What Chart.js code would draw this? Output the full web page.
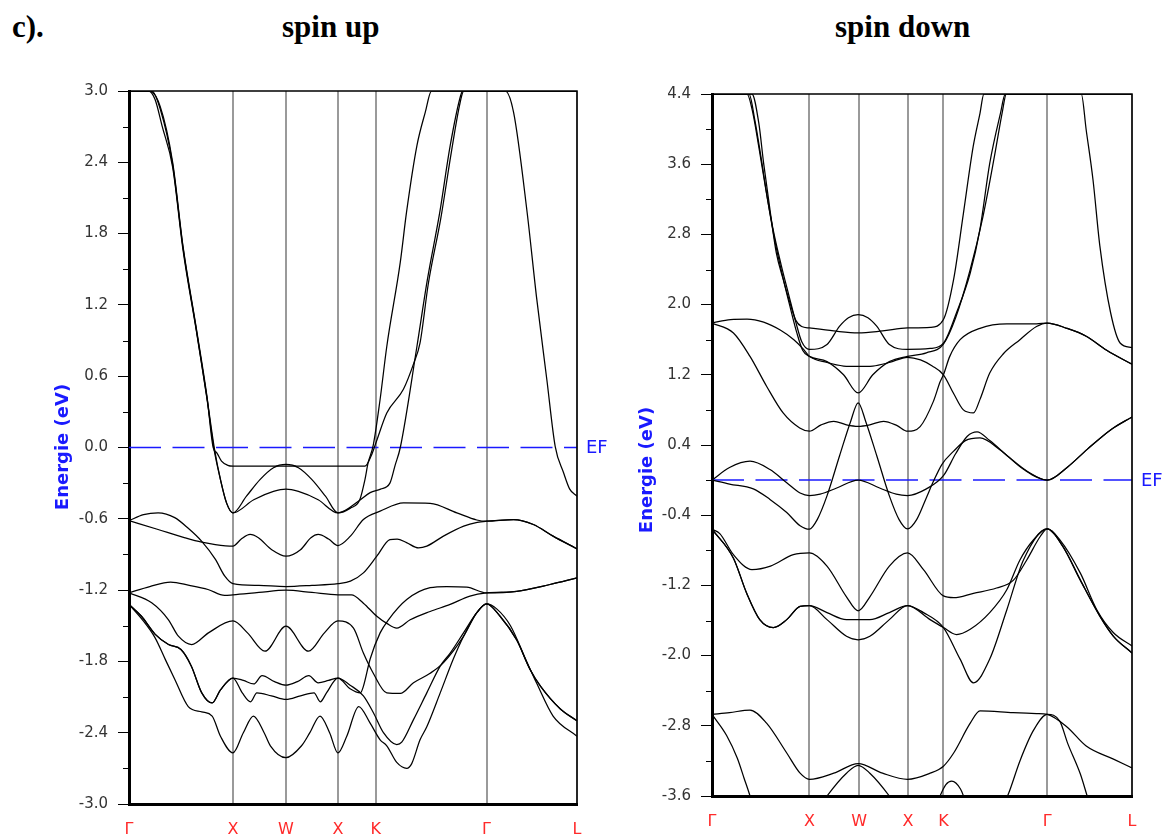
<!DOCTYPE html>
<html lang="fr">
<head>
<meta charset="UTF-8">
<title>Structure de bandes</title>
<script src="https://cdn.jsdelivr.net/npm/chart.js"></script>
<style>
  body { margin: 0; background: #fff; width: 1172px; height: 836px; position: relative; overflow: hidden; }
  .titre { position: absolute; top: 11px; font-family: "Liberation Serif", serif; font-weight: bold; font-size: 31px; line-height: 31px; color: #000; }
  #cUp { position: absolute; left: 0; top: 0; }
  #cDown { position: absolute; left: 630px; top: 0; }
</style>
</head>
<body>
<div class="titre" style="left:12px">c).</div>
<div class="titre" style="left:282px">spin up</div>
<div class="titre" style="left:835px">spin down</div>
<canvas id="cUp" width="630" height="836"></canvas>
<canvas id="cDown" width="542" height="836"></canvas>

<script>
// chemin dans la zone de Brillouin
const kPoints = [0, 1.0, 1.51, 2.01, 2.375, 3.44, 4.31];
const kLabels = ['Γ', 'X', 'W', 'X', 'K', 'Γ', 'L'];

const upTicks = [-3.0, -2.4, -1.8, -1.2, -0.6, 0.0, 0.6, 1.2, 1.8, 2.4, 3.0];
const downTicks = [-3.6, -2.8, -2.0, -1.2, -0.4, 0.4, 1.2, 2.0, 2.8, 3.6, 4.4];

// spin up : bandes [k, E(eV)]
const up1 = [[0,3.0],[0.20,3.0],[0.30,2.87],[0.42,2.40],[0.52,1.69],[0.65,0.99],[0.75,0.43],[0.81,0.0],[0.845,-0.045],[0.89,-0.115],[0.95,-0.15],[1.0,-0.157],[1.51,-0.157],[2.01,-0.157],[2.27,-0.157],[2.33,-0.07],[2.38,0.05],[2.48,0.29],[2.64,0.49],[2.74,0.71],[2.80,0.88],[2.88,1.38],[3.0,1.93],[3.10,2.48],[3.18,2.88],[3.22,3.0],[4.31,3.0]];
const up2 = [[0,3.0],[0.22,3.0],[0.30,2.85],[0.42,2.38],[0.52,1.68],[0.65,0.98],[0.75,0.42],[0.82,0.0],[0.88,-0.27],[0.94,-0.47],[1.0,-0.55],[1.13,-0.41],[1.26,-0.27],[1.39,-0.17],[1.51,-0.143],[1.63,-0.17],[1.76,-0.27],[1.89,-0.41],[2.01,-0.55],[2.13,-0.51],[2.22,-0.44],[2.27,-0.27],[2.30,-0.13],[2.35,0.02],[2.415,0.40],[2.48,0.85],[2.61,1.56],[2.67,1.98],[2.77,2.54],[2.85,2.82],[2.91,3.0],[3.62,3.0],[3.70,2.82],[3.83,1.98],[3.92,1.27],[4.02,0.57],[4.10,0.01],[4.18,-0.21],[4.24,-0.35],[4.31,-0.41]];
const up3 = [[0,3.0],[0.19,3.0],[0.25,2.93],[0.32,2.70],[0.42,2.36],[0.52,1.66],[0.65,0.97],[0.75,0.41],[0.815,0.0],[0.88,-0.27],[0.94,-0.47],[1.0,-0.55],[1.20,-0.44],[1.39,-0.37],[1.51,-0.35],[1.63,-0.37],[1.82,-0.44],[2.01,-0.55],[2.21,-0.45],[2.32,-0.38],[2.42,-0.35],[2.51,-0.30],[2.56,-0.15],[2.61,0.0],[2.77,0.85],[2.87,1.41],[2.99,1.98],[3.09,2.54],[3.19,2.96],[3.21,3.0],[4.31,3.0]];
const up4 = [[0,-0.615],[0.14,-0.565],[0.28,-0.55],[0.44,-0.59],[0.57,-0.68],[0.70,-0.79],[0.83,-0.94],[0.92,-1.08],[1.0,-1.145],[1.25,-1.16],[1.51,-1.17],[1.76,-1.16],[2.01,-1.145],[2.13,-1.125],[2.255,-1.055],[2.384,-0.915],[2.51,-0.775],[2.58,-0.77],[2.67,-0.80],[2.785,-0.845],[2.865,-0.83],[3.025,-0.746],[3.22,-0.662],[3.35,-0.63],[3.44,-0.62],[3.70,-0.606],[3.89,-0.648],[4.08,-0.746],[4.31,-0.853]];
const up5 = [[0,-0.615],[0.28,-0.69],[0.54,-0.76],[0.70,-0.797],[0.83,-0.817],[1.0,-0.83],[1.08,-0.77],[1.165,-0.732],[1.245,-0.76],[1.373,-0.86],[1.51,-0.915],[1.65,-0.86],[1.75,-0.76],[1.82,-0.732],[1.92,-0.77],[2.01,-0.825],[2.13,-0.746],[2.255,-0.606],[2.416,-0.536],[2.641,-0.466],[2.897,-0.47],[3.154,-0.55],[3.346,-0.61],[3.44,-0.62],[3.70,-0.606],[3.89,-0.648],[4.08,-0.746],[4.31,-0.853]];
const up6 = [[0,-1.223],[0.20,-1.17],[0.40,-1.133],[0.58,-1.16],[0.76,-1.195],[0.92,-1.245],[1.0,-1.24],[1.25,-1.22],[1.51,-1.20],[1.76,-1.22],[2.01,-1.24],[2.14,-1.24],[2.255,-1.31],[2.384,-1.42],[2.48,-1.48],[2.576,-1.52],[2.705,-1.45],[2.897,-1.38],[3.09,-1.32],[3.28,-1.25],[3.44,-1.223],[3.73,-1.21],[4.05,-1.153],[4.31,-1.097]];
const up7 = [[0,-1.223],[0.218,-1.307],[0.378,-1.448],[0.475,-1.588],[0.603,-1.658],[0.764,-1.56],[1.0,-1.46],[1.14,-1.56],[1.308,-1.714],[1.51,-1.504],[1.726,-1.714],[1.88,-1.56],[2.01,-1.46],[2.16,-1.52],[2.255,-1.73],[2.35,-1.90],[2.48,-2.065],[2.61,-2.07],[2.737,-1.98],[2.897,-1.90],[3.026,-1.81],[3.218,-1.59],[3.346,-1.39],[3.44,-1.316],[3.57,-1.42],[3.73,-1.62],[3.86,-1.87],[3.96,-2.01],[4.15,-2.20],[4.31,-2.30]];
const up8 = [[0,-1.32],[0.12,-1.42],[0.25,-1.57],[0.38,-1.658],[0.50,-1.70],[0.60,-1.84],[0.70,-2.065],[0.80,-2.15],[0.88,-2.04],[1.0,-1.94],[1.10,-1.96],[1.20,-1.99],[1.28,-1.92],[1.40,-1.97],[1.51,-2.0],[1.62,-1.97],[1.73,-1.92],[1.82,-1.98],[1.92,-1.96],[2.01,-1.94],[2.127,-2.0],[2.255,-2.09],[2.35,-2.23],[2.448,-2.40],[2.576,-2.50],[2.624,-2.48],[2.737,-2.29],[2.865,-2.065],[2.994,-1.84],[3.09,-1.73],[3.218,-1.56],[3.346,-1.39],[3.44,-1.316],[3.57,-1.42],[3.73,-1.62],[3.86,-1.87],[3.96,-2.01],[4.15,-2.20],[4.31,-2.30]];
const up9 = [[0,-1.32],[0.12,-1.44],[0.25,-1.60],[0.35,-1.785],[0.44,-1.95],[0.57,-2.18],[0.70,-2.225],[0.80,-2.26],[0.88,-2.43],[1.0,-2.57],[1.10,-2.40],[1.197,-2.26],[1.30,-2.40],[1.36,-2.51],[1.51,-2.61],[1.66,-2.51],[1.74,-2.40],[1.838,-2.26],[1.93,-2.40],[2.01,-2.57],[2.095,-2.43],[2.21,-2.18],[2.32,-2.32],[2.416,-2.46],[2.48,-2.51],[2.576,-2.65],[2.672,-2.70],[2.72,-2.66],[2.80,-2.46],[2.865,-2.35],[2.994,-2.065],[3.12,-1.78],[3.218,-1.59],[3.346,-1.39],[3.44,-1.316],[3.54,-1.36],[3.67,-1.50],[3.83,-1.81],[3.92,-1.98],[4.08,-2.26],[4.31,-2.43]];
const up10 = [[0,-1.32],[0.12,-1.42],[0.25,-1.57],[0.38,-1.658],[0.50,-1.70],[0.60,-1.84],[0.70,-2.065],[0.80,-2.15],[0.88,-2.04],[1.0,-1.94],[1.09,-2.065],[1.17,-2.14],[1.23,-2.065],[1.37,-2.09],[1.51,-2.12],[1.65,-2.09],[1.78,-2.065],[1.84,-2.14],[1.90,-2.065],[2.01,-1.94],[2.127,-2.03],[2.226,-2.065],[2.255,-2.01],[2.32,-1.78],[2.416,-1.56],[2.496,-1.45],[2.672,-1.28],[2.897,-1.18],[3.058,-1.17],[3.25,-1.175],[3.44,-1.223],[3.73,-1.21],[4.05,-1.153],[4.31,-1.097]];

// spin down : bandes [k, E(eV)]
const dn1 = [[0,4.4],[0.41,4.4],[0.48,4.07],[0.53,3.61],[0.60,3.04],[0.66,2.59],[0.73,2.29],[0.80,2.02],[0.86,1.82],[0.92,1.75],[1.0,1.734],[1.25,1.70],[1.50,1.677],[1.75,1.70],[2.006,1.734],[2.24,1.74],[2.375,1.83],[2.48,2.29],[2.58,3.04],[2.68,3.80],[2.75,4.18],[2.79,4.4],[3.79,4.4],[3.84,3.99],[3.91,3.42],[3.98,2.67],[4.09,1.91],[4.19,1.56],[4.31,1.51]];
const dn2 = [[0,4.4],[0.36,4.4],[0.42,4.18],[0.48,3.80],[0.55,3.33],[0.63,2.84],[0.71,2.45],[0.79,2.10],[0.86,1.80],[0.92,1.58],[1.0,1.49],[1.18,1.545],[1.31,1.754],[1.40,1.85],[1.50,1.886],[1.60,1.85],[1.69,1.754],[1.82,1.545],[2.006,1.49],[2.24,1.50],[2.375,1.56],[2.51,1.91],[2.65,2.36],[2.75,2.86],[2.85,3.61],[2.96,4.18],[3.01,4.4],[4.31,4.4]];
const dn3 = [[0,4.4],[0.38,4.4],[0.44,4.1],[0.50,3.7],[0.57,3.2],[0.65,2.7],[0.73,2.3],[0.80,1.98],[0.87,1.68],[0.93,1.48],[1.0,1.41],[1.18,1.35],[1.35,1.20],[1.50,0.993],[1.65,1.20],[1.82,1.35],[2.006,1.41],[2.2,1.45],[2.375,1.55],[2.5,1.85],[2.65,2.4],[2.78,3.0],[2.90,3.7],[2.98,4.2],[3.02,4.4],[4.31,4.4]];
const dn4 = [[0,1.79],[0.19,1.83],[0.36,1.835],[0.53,1.80],[0.70,1.71],[0.84,1.60],[0.94,1.49],[1.0,1.41],[1.18,1.34],[1.35,1.30],[1.50,1.295],[1.65,1.30],[1.82,1.34],[2.006,1.40],[2.14,1.37],[2.26,1.30],[2.375,1.20],[2.478,0.99],[2.58,0.80],[2.683,0.766],[2.75,0.92],[2.85,1.22],[2.99,1.44],[3.16,1.60],[3.33,1.75],[3.44,1.79],[3.64,1.73],[3.84,1.64],[4.05,1.48],[4.31,1.32]];
const dn5 = [[0,1.79],[0.22,1.677],[0.39,1.41],[0.56,1.07],[0.73,0.765],[0.90,0.594],[1.0,0.557],[1.12,0.63],[1.25,0.67],[1.38,0.63],[1.50,0.613],[1.62,0.63],[1.76,0.67],[1.90,0.62],[2.006,0.557],[2.136,0.61],[2.273,0.90],[2.341,1.12],[2.375,1.20],[2.44,1.41],[2.546,1.60],[2.75,1.73],[3.025,1.78],[3.33,1.78],[3.44,1.79],[3.64,1.73],[3.84,1.64],[4.05,1.48],[4.31,1.32]];
const dn6 = [[0,0.0],[0.18,0.143],[0.39,0.215],[0.595,0.12],[0.767,-0.03],[0.904,-0.147],[1.0,-0.176],[1.11,-0.16],[1.28,-0.09],[1.50,0.0],[1.72,-0.09],[1.89,-0.16],[2.006,-0.176],[2.2,-0.10],[2.375,0.05],[2.5,0.30],[2.62,0.50],[2.72,0.55],[2.85,0.45],[3.05,0.26],[3.25,0.09],[3.44,0.0],[3.65,0.15],[3.85,0.35],[4.1,0.58],[4.31,0.72]];
const dn7 = [[0,0.0],[0.18,-0.046],[0.424,-0.10],[0.595,-0.22],[0.767,-0.37],[0.904,-0.52],[1.0,-0.56],[1.08,-0.45],[1.18,-0.18],[1.31,0.28],[1.42,0.66],[1.50,0.88],[1.58,0.66],[1.69,0.28],[1.82,-0.18],[1.92,-0.45],[2.006,-0.556],[2.10,-0.45],[2.20,-0.20],[2.27,-0.02],[2.36,0.18],[2.48,0.33],[2.6,0.45],[2.75,0.48],[2.95,0.35],[3.2,0.12],[3.44,0.0],[3.65,0.15],[3.85,0.35],[4.1,0.58],[4.31,0.72]];
const dn8 = [[0,-0.56],[0.08,-0.61],[0.22,-0.85],[0.41,-1.02],[0.60,-0.98],[0.835,-0.85],[1.0,-0.83],[1.18,-0.98],[1.38,-1.33],[1.50,-1.49],[1.62,-1.33],[1.82,-0.98],[2.006,-0.83],[2.17,-1.02],[2.375,-1.32],[2.48,-1.34],[2.683,-1.29],[2.92,-1.23],[3.094,-1.14],[3.23,-0.91],[3.37,-0.64],[3.44,-0.556],[3.57,-0.68],[3.78,-1.06],[3.95,-1.48],[4.12,-1.74],[4.31,-1.89]];
const dn9 = [[0,-0.56],[0.22,-0.89],[0.356,-1.29],[0.49,-1.59],[0.63,-1.68],[0.767,-1.59],[0.904,-1.44],[1.0,-1.43],[1.18,-1.51],[1.38,-1.59],[1.50,-1.59],[1.62,-1.59],[1.82,-1.51],[2.006,-1.43],[2.238,-1.59],[2.375,-1.68],[2.51,-1.76],[2.65,-1.70],[2.85,-1.51],[3.025,-1.25],[3.16,-0.91],[3.30,-0.68],[3.44,-0.556],[3.60,-0.755],[3.78,-1.14],[3.98,-1.55],[4.12,-1.78],[4.31,-1.97]];
const dn10 = [[0,-0.56],[0.22,-0.89],[0.356,-1.29],[0.49,-1.59],[0.63,-1.68],[0.767,-1.59],[0.904,-1.44],[1.0,-1.43],[1.18,-1.59],[1.38,-1.78],[1.50,-1.82],[1.62,-1.78],[1.82,-1.59],[2.006,-1.43],[2.17,-1.51],[2.375,-1.68],[2.546,-2.04],[2.683,-2.31],[2.85,-2.04],[3.025,-1.48],[3.196,-0.91],[3.44,-0.556],[3.60,-0.755],[3.78,-1.14],[3.98,-1.55],[4.12,-1.78],[4.31,-1.97]];
const dn11 = [[0,-2.67],[0.18,-2.65],[0.39,-2.62],[0.56,-2.77],[0.767,-3.11],[0.904,-3.34],[1.0,-3.41],[1.25,-3.34],[1.50,-3.23],[1.75,-3.34],[2.006,-3.41],[2.238,-3.34],[2.375,-3.26],[2.48,-3.11],[2.65,-2.77],[2.75,-2.63],[3.09,-2.65],[3.33,-2.66],[3.44,-2.67],[3.64,-2.81],[3.84,-3.03],[4.12,-3.18],[4.31,-3.28]];
const dn12 = [[0,-2.67],[0.15,-2.91],[0.26,-3.17],[0.33,-3.40],[0.39,-3.60],[0.45,-3.85],[0.60,-4.0],[1.0,-3.9],[1.18,-3.60],[1.38,-3.34],[1.50,-3.25],[1.62,-3.34],[1.82,-3.60],[2.0,-3.9],[2.25,-3.8],[2.40,-3.47],[2.46,-3.43],[2.55,-3.52],[2.65,-3.8],[2.85,-4.0],[3.04,-3.58],[3.16,-3.2],[3.30,-2.85],[3.44,-2.67],[3.57,-2.75],[3.65,-3.0],[3.78,-3.35],[3.85,-3.6],[3.92,-3.85]];

const upBands = [up1, up2, up3, up4, up5, up6, up7, up8, up9, up10];
const downBands = [dn1, dn2, dn3, dn4, dn5, dn6, dn7, dn8, dn9, dn10, dn11, dn12];

// petites graduations, cadre, titre de l'axe et étiquette EF
const decor = {
    id: 'decor',
    afterDraw(chart) {
        const o = chart.options.plugins.decor;
        const y = chart.scales.y;
        const a = chart.chartArea;
        const ctx = chart.ctx;
        ctx.save();
        ctx.strokeStyle = '#000';
        ctx.lineWidth = 1;
        for (let i = 0; i < o.ticks.length - 1; i++) {
            const py = Math.round(y.getPixelForValue((o.ticks[i] + o.ticks[i + 1]) / 2)) + 0.5;
            ctx.beginPath();
            ctx.moveTo(a.left - 6, py);
            ctx.lineTo(a.left, py);
            ctx.stroke();
        }
        ctx.lineWidth = 1.5;
        ctx.beginPath();
        ctx.moveTo(a.left, a.top);
        ctx.lineTo(a.right, a.top);
        ctx.lineTo(a.right, a.bottom);
        ctx.stroke();

        ctx.fillStyle = '#1a1aff';
        ctx.textBaseline = 'middle';
        ctx.font = '18px "DejaVu Sans"';
        ctx.fillText('EF', a.right + 9, y.getPixelForValue(0) + 1);

        ctx.translate(o.titleX, o.titleY);
        ctx.rotate(-Math.PI / 2);
        ctx.textAlign = 'center';
        ctx.font = 'bold 18px "DejaVu Sans"';
        ctx.fillText('Energie (eV)', 0, 0);
        ctx.restore();
    }
};

function drawBands(id, bands, yTicks, geo) {
    const kMax = kPoints[kPoints.length - 1];
    const datasets = bands.map(b => ({
        data: b.map(p => ({ x: p[0], y: p[1] })),
        showLine: true,
        borderColor: '#000',
        borderWidth: 1.25,
        pointRadius: 0,
        cubicInterpolationMode: 'monotone'
    }));
    datasets.push({
        data: [{ x: 0, y: 0 }, { x: kMax, y: 0 }],
        showLine: true,
        borderColor: '#1a1aff',
        borderWidth: 1.5,
        borderDash: [32, 11.5],
        pointRadius: 0
    });

    return new Chart(document.getElementById(id), {
        type: 'scatter',
        data: { datasets },
        options: {
            responsive: false,
            animation: false,
            layout: { padding: { top: geo.top, right: geo.right, left: 0, bottom: 0 } },
            plugins: {
                legend: { display: false },
                tooltip: { enabled: false },
                decor: { ticks: yTicks, titleX: geo.titleX, titleY: geo.titleY }
            },
            scales: {
                x: {
                    type: 'linear',
                    min: 0,
                    max: kMax,
                    afterBuildTicks: s => { s.ticks = kPoints.map(v => ({ value: v })); },
                    afterFit: s => { s.height = geo.xh; },
                    ticks: {
                        autoSkip: false,
                        maxRotation: 0,
                        padding: 16,
                        color: '#ff2a2a',
                        font: { family: 'DejaVu Sans', size: 16 },
                        callback: (v, i) => kLabels[i]
                    },
                    grid: { color: '#9a9a9a', lineWidth: 2, drawTicks: false },
                    border: { color: '#000', width: 3 }
                },
                y: {
                    type: 'linear',
                    min: yTicks[0],
                    max: yTicks[yTicks.length - 1],
                    afterBuildTicks: s => { s.ticks = yTicks.map(v => ({ value: v })); },
                    afterFit: s => { s.width = geo.yw; },
                    ticks: {
                        padding: 10,
                        color: '#333',
                        font: { family: 'DejaVu Sans', size: 15 },
                        callback: v => v.toFixed(1)
                    },
                    grid: { drawOnChartArea: false, tickLength: 11, color: '#000', lineWidth: 1 },
                    border: { color: '#000', width: 3 }
                }
            }
        },
        plugins: [decor]
    });
}

drawBands('cUp', upBands, upTicks, { top: 91, right: 53, xh: 32, yw: 129, titleX: 63, titleY: 447 });
drawBands('cDown', downBands, downTicks, { top: 94, right: 40, xh: 40, yw: 82, titleX: 17, titleY: 470 });
</script>
</body>
</html>
